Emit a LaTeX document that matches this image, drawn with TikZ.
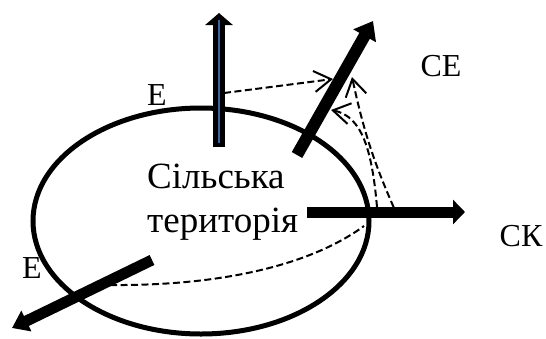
\documentclass[tikz,border=0pt]{standalone}
\usepackage{fontspec}
\setmainfont{Liberation Serif}
\usetikzlibrary{arrows.meta}
\definecolor{stripe}{RGB}{60,100,165}
\tikzset{
  flow/.style={line width=11pt, -{Triangle[length=14pt,width=24pt]}},
  link/.style={line width=2pt, dash pattern=on 7pt off 3.5pt,
    -{Straight Barb[length=17pt,width=21pt,line width=2pt]}},
  lbl/.style={inner sep=0pt, font=\fontsize{32}{38}\selectfont},
  body/.style={inner sep=0pt, anchor=base west, font=\fontsize{37}{44}\selectfont}
}

\begin{document}
\begin{tikzpicture}[x=1pt,y=-1pt]
  \useasboundingbox (0,0) rectangle (546,338);
  % ------------------------------------------------------------------ territory
  \draw[line width=5pt] (201,221) ellipse [x radius=168pt, y radius=113pt];
  \node[body] (terrA) at (147,188) {Сільська};
  \node[body] (terrB) at (147,232) {територія};
  % ------------------------------------------------------------------ end points
  \coordinate (vtail) at (219,147); \coordinate (vtip) at (219,13);
  \coordinate (dtail) at (297,155); \coordinate (dtip) at (373,21);
  \coordinate (ktail) at (307,212); \coordinate (ktip) at (465,212);
  \coordinate (etail) at (152,260); \coordinate (etip) at (12,328);
  \coordinate (va) at (224,93);   \coordinate (da) at (333,79);
  \coordinate (kb) at (377,207);  \coordinate (db) at (331,110);
  \coordinate (kc) at (398,217);  \coordinate (dc) at (352,77);
  \coordinate (ed) at (110,285);  \coordinate (kd) at (364,226);
  % ------------------------------------------------------------------ flows
  \draw[flow, line width=12.5pt, -{Triangle[length=12pt,width=27pt]}] (vtail) -- (vtip);
  \draw[stripe, line width=1.6pt] (219,143) -- (219,20);
  \draw[flow, line width=12pt, -{Triangle[length=17pt,width=25pt]}] (dtail) -- (dtip);
  \draw[flow, -{Triangle[length=12pt,width=24pt]}] (ktail) -- (ktip);
  \draw[flow, -{Triangle[length=16pt,width=22pt]}] (etail) -- (etip);
  % ------------------------------------------------------------------ links
  \draw[link] (va) -- (da);
  \draw[link] (kb) .. controls (372,150) and (362,116) .. (db);
  \draw[link] (kc) to[bend left=6] (dc);
  \draw[line width=2pt, dash pattern=on 7pt off 3.5pt] (ed) .. controls (230,286) and (315,262) .. (kd);
  % ------------------------------------------------------------------ labels
  \node[lbl] (eTop) at (157,95) {Е};
  \node[lbl] (eLow) at (32,268) {Е};
  \node[lbl] (ce) at (441,66) {СЕ};
  \node[lbl] (ck) at (521,236) {СК};
\end{tikzpicture}
\end{document}
